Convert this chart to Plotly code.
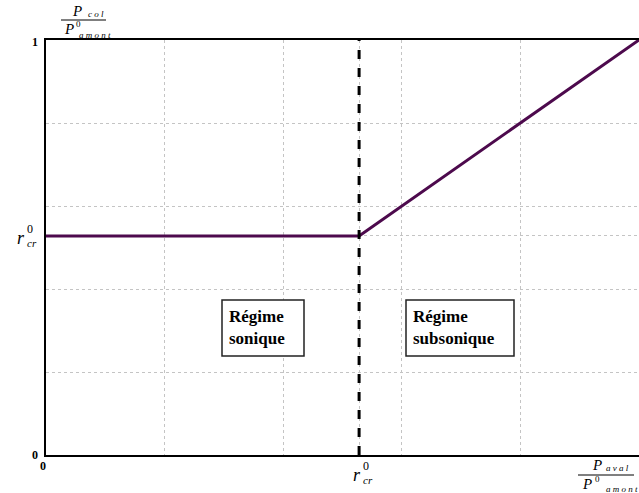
import plotly.graph_objects as go

r_cr = 0.528
x_vals = [0.0, r_cr, 1.0]
y_vals = [r_cr, r_cr, 1.0]
grid_vals = [0.0, 0.2, 0.4, r_cr, 0.6, 0.8, 1.0]

W, H = 639, 493
L, R, T, B = 46, 0, 40, 38
pw, ph = W - L - R, H - T - B

def px(x):
    return (x - L) / pw

def py(y):
    return (H - B - y) / ph

SERIF = "Liberation Serif"
line_color = "#4d0a4d"

fig = go.Figure()
fig.add_trace(go.Scatter(x=x_vals, y=y_vals, mode="lines",
                         line=dict(color=line_color, width=3), showlegend=False,
                         hoverinfo="skip"))

fig.add_shape(type="line", x0=r_cr, x1=r_cr, y0=0, y1=1, xref="x", yref="y",
              line=dict(color="black", width=3, dash="dash"))

def box(x0, x1, y0, y1):
    fig.add_shape(type="rect", xref="paper", yref="paper",
                  x0=px(x0), x1=px(x1), y0=py(y1), y1=py(y0),
                  line=dict(color="#222", width=1.5), fillcolor="white", layer="above")

box(222, 304, 300, 356)
box(406, 514, 300, 356)

annos = []
def txt(x, y, s, size=14, xanchor="center", yanchor="middle", align="center"):
    annos.append(dict(x=px(x), y=py(y), xref="paper", yref="paper", text=s, showarrow=False,
                      xanchor=xanchor, yanchor=yanchor, align=align,
                      font=dict(family=SERIF, size=size, color="black")))

txt(227, 327, "<b>Régime<br>sonique</b>", 17, xanchor="left", align="left")
txt(411, 327, "<b>Régime<br>subsonique</b>", 17, xanchor="left", align="left")

# tick labels
txt(40, 42, "<b>1</b>", 12, xanchor="right")
txt(40, 455, "<b>0</b>", 12, xanchor="right")
txt(43, 466, "<b>0</b>", 12)
# r_cr^0 on y axis
txt(21, 238, "<i>r</i>", 18)
txt(30, 229, "0", 12)
txt(32, 243, "<i>cr</i>", 11)
# r_cr^0 on x axis
txt(357, 475, "<i>r</i>", 18)
txt(366, 466, "0", 12)
txt(368, 480, "<i>cr</i>", 11)

# y label fraction
txt(77, 11, "<i>P</i>", 15)
txt(96, 14, "<i>c o l</i>", 9)
fig.add_shape(type="line", xref="paper", yref="paper", x0=px(61), x1=px(106), y0=py(20), y1=py(20),
              line=dict(color="black", width=1))
txt(69, 29, "<i>P</i>", 15)
txt(78, 24, "0", 9)
txt(95, 35, "<i>a m o n t</i>", 9)

# x label fraction
txt(597, 465, "<i>P</i>", 15)
txt(617, 468, "<i>a v a l</i>", 9)
fig.add_shape(type="line", xref="paper", yref="paper", x0=px(578), x1=px(634), y0=py(475), y1=py(475),
              line=dict(color="black", width=1))
txt(587, 484, "<i>P</i>", 15)
txt(597, 479, "0", 9)
txt(622, 489, "<i>a m o n t</i>", 9)

fig.update_layout(annotations=annos, font=dict(family=SERIF))

axis_common = dict(showgrid=True, gridcolor="#c4c4c4", griddash="dot", gridwidth=1,
                   zeroline=False, showticklabels=False, ticks="",
                   tickmode="array", tickvals=grid_vals, range=[0, 1],
                   showline=True, linecolor="black", linewidth=2)
fig.update_xaxes(**axis_common, mirror=True)
fig.update_yaxes(**axis_common, mirror=False)

fig.update_layout(width=W, height=H, margin=dict(l=L, r=R, t=T, b=B),
                  plot_bgcolor="white", paper_bgcolor="white")

fig.write_html("out.html", config={"displayModeBar": False},
               post_script="document.body.style.margin='0';document.body.style.overflow='hidden';")
